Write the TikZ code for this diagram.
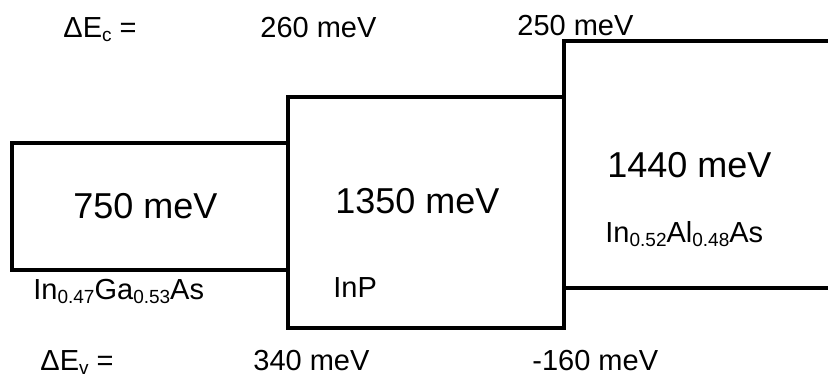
\documentclass[tikz,border=0pt]{standalone}
\usepackage{fontspec}
\setmainfont{Liberation Sans}
\usepackage{tikz}
\tikzset{
  band/.style={draw=black, line width=2pt},
  gaplbl/.style={anchor=base west, inner sep=0pt, font=\fontsize{18}{21}\selectfont},
  lbl/.style={anchor=base west, inner sep=0pt, font=\fontsize{14.5}{17}\selectfont}
}
\newcommand{\lowsub}[1]{\raisebox{-2pt}{\fontsize{9.5}{11}\selectfont #1}}

\begin{document}
\begin{tikzpicture}[x=0.5pt, y=-0.5pt]
  \useasboundingbox (0,0) rectangle (828,375);
  \clip (0,0) rectangle (828,375);

  % layers
  \draw[band] (12,143) rectangle (288,270);
  \draw[band] (288,97) rectangle (564,328);
  \draw[band] (832,41) -| (564,288) -- (832,288);

  % band gaps and materials
  \node[gaplbl] (eg1) at (73,218) {750 meV};
  \node[gaplbl] (eg2) at (335,213) {1350 meV};
  \node[gaplbl] (eg3) at (607,177) {1440 meV};
  \node[lbl] (mat1) at (33,299) {In\lowsub{0.47}Ga\lowsub{0.53}As};
  \node[lbl] (mat2) at (333,297) {InP};
  \node[lbl] (mat3) at (605,242) {In\lowsub{0.52}Al\lowsub{0.48}As};

  % conduction band offsets
  \node[lbl] (dec) at (63,37) {ΔE\lowsub{c} =};
  \node[lbl] (dec1) at (260,37) {260 meV};
  \node[lbl] (dec2) at (517,35) {250 meV};

  % valence band offsets
  \node[lbl] (dev) at (40,370) {ΔE\lowsub{v} =};
  \node[lbl] (dev1) at (253,370) {340 meV};
  \node[lbl] (dev2) at (532,370) {-160 meV};
\end{tikzpicture}
\end{document}
